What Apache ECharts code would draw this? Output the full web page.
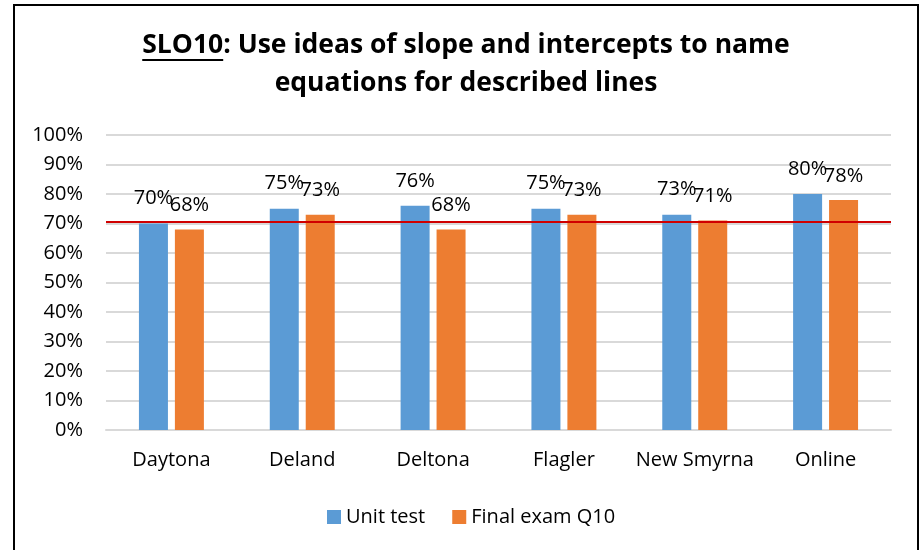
<!DOCTYPE html>
<html>
<head>
<meta charset="utf-8">
<script src="https://cdn.jsdelivr.net/npm/echarts@6/dist/echarts.min.js"></script>
<style>
  html, body { margin: 0; padding: 0; background: #fff; }
  #chart { width: 921px; height: 550px; }
</style>
</head>
<body>
<div id="chart"></div>
<script>
// chart data
const categories = ['Daytona', 'Deland', 'Deltona', 'Flagler', 'New Smyrna', 'Online']
const unitTest = [70, 75, 76, 75, 73, 80]
const finalExam = [68, 73, 68, 73, 71, 78]
const targetLine = 70.5
const titleLine1 = ': Use ideas of slope and intercepts to name'
const titleCode = 'SLO10'
const titleLine2 = 'equations for described lines'

const textFont = '"Open Sans", sans-serif'
const titleFont = '"Open Sans", sans-serif'
const titleSize = 26.5

// measure title so the underline sits under "SLO10" only
function measure(text, font) {
  const ctx = document.createElement('canvas').getContext('2d')
  ctx.font = font
  return ctx.measureText(text).width
}
const fontSpec = 'bold ' + titleSize + 'px ' + titleFont
const codeW = measure(titleCode, fontSpec)
const line1W = codeW + measure(titleLine1, fontSpec)
const titleCx = 466
const line1Left = titleCx - line1W / 2

const chart = echarts.init(document.getElementById('chart'))
chart.setOption({
  animation: false,
  color: ['#5b9bd5', '#ed7d31'],
  textStyle: { fontFamily: textFont },
  graphic: [
    {
      type: 'rect',
      shape: { x: 14, y: 5, width: 904, height: 600 },
      style: { fill: 'none', stroke: '#000', lineWidth: 2 },
      silent: true
    },
    {
      type: 'text',
      x: line1Left,
      y: 45,
      style: {
        text: titleCode + titleLine1,
        font: fontSpec,
        fill: '#000',
        textAlign: 'left',
        textVerticalAlign: 'middle'
      }
    },
    {
      type: 'line',
      shape: { x1: line1Left, y1: 60, x2: line1Left + codeW, y2: 60 },
      style: { stroke: '#000', lineWidth: 2 }
    },
    {
      type: 'text',
      x: titleCx,
      y: 83,
      style: {
        text: titleLine2,
        font: fontSpec,
        fill: '#000',
        textAlign: 'center',
        textVerticalAlign: 'middle'
      }
    }
  ],
  grid: {
    left: 106,
    right: 30,
    top: 135,
    bottom: 120
  },
  legend: {
    data: ['Unit test', 'Final exam Q10'],
    left: 322,
    top: 502,
    icon: 'rect',
    itemWidth: 14,
    itemHeight: 14,
    itemGap: 27,
    textStyle: { fontSize: 20, color: '#000', fontFamily: textFont }
  },
  xAxis: {
    type: 'category',
    data: categories,
    axisLine: { show: true, lineStyle: { color: '#d9d9d9', width: 2 } },
    axisTick: { show: false },
    axisLabel: { interval: 0, fontSize: 20, color: '#000', margin: 20 }
  },
  yAxis: {
    type: 'value',
    min: 0,
    max: 100,
    interval: 10,
    axisLine: { show: false },
    axisTick: { show: false },
    axisLabel: { formatter: '{value}%', fontSize: 20, color: '#000', margin: 23 },
    splitLine: { lineStyle: { color: '#d9d9d9', width: 2 } }
  },
  series: [
    {
      name: 'Unit test',
      type: 'bar',
      data: unitTest,
      barWidth: 29,
      barGap: '24%',
      label: {
        show: true,
        position: 'top',
        distance: 15,
        formatter: '{c}%',
        fontSize: 20,
        color: '#000'
      },
      markLine: {
        silent: true,
        symbol: 'none',
        label: { show: false },
        lineStyle: { color: '#d00000', width: 2, type: 'solid' },
        data: [{ yAxis: targetLine }]
      },
      z: 2
    },
    {
      name: 'Final exam Q10',
      type: 'bar',
      data: finalExam,
      barWidth: 29,
      label: {
        show: true,
        position: 'top',
        distance: 14,
        formatter: '{c}%',
        fontSize: 20,
        color: '#000'
      },
      z: 2
    }
  ]
})
</script>
</body>
</html>
